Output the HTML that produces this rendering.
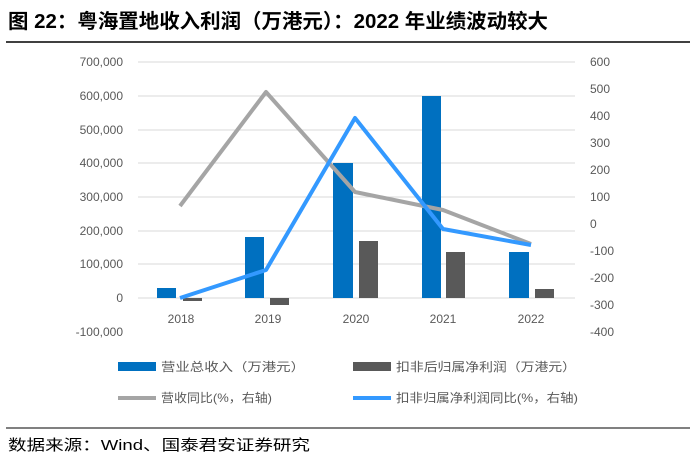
<!DOCTYPE html><html><head><meta charset="utf-8"><style>body{margin:0;background:#fff;}svg{display:block}</style></head><body>
<svg width="693" height="462" xmlns="http://www.w3.org/2000/svg" font-family="Liberation Sans, Noto Sans CJK SC, sans-serif">
<text x="8" y="28" font-size="20" font-weight="bold" fill="#000" textLength="540" lengthAdjust="spacingAndGlyphs">图 22：粤海置地收入利润（万港元）：2022 年业绩波动较大</text>
<line x1="6" y1="42" x2="690" y2="42" stroke="#000" stroke-width="1.5"/>
<g stroke="#d9d9d9" stroke-width="1">
<line x1="138" y1="62" x2="575" y2="62"/><line x1="138" y1="96" x2="575" y2="96"/><line x1="138" y1="130" x2="575" y2="130"/><line x1="138" y1="163" x2="575" y2="163"/><line x1="138" y1="197" x2="575" y2="197"/><line x1="138" y1="231" x2="575" y2="231"/><line x1="138" y1="264" x2="575" y2="264"/><line x1="138" y1="298" x2="575" y2="298"/>
</g>
<g font-size="12" fill="#595959" text-anchor="end">
<text x="123" y="66">700,000</text><text x="123" y="100">600,000</text><text x="123" y="134">500,000</text><text x="123" y="167">400,000</text><text x="123" y="201">300,000</text><text x="123" y="235">200,000</text><text x="123" y="268">100,000</text><text x="123" y="302">0</text><text x="123" y="336">-100,000</text>
</g>
<g font-size="12" fill="#595959" text-anchor="start">
<text x="590" y="66">600</text><text x="590" y="93">500</text><text x="590" y="120">400</text><text x="590" y="147">300</text><text x="590" y="174">200</text><text x="590" y="201">100</text><text x="590" y="228">0</text><text x="590" y="255">-100</text><text x="590" y="282">-200</text><text x="590" y="309">-300</text><text x="590" y="336">-400</text>
</g>
<g fill="#0070c0">
<rect x="157" y="288" width="19" height="10"/><rect x="245" y="237" width="19" height="61"/><rect x="333" y="163" width="20" height="135"/><rect x="422" y="96" width="19" height="202"/><rect x="509" y="252" width="20" height="46"/>
</g>
<g fill="#595959">
<rect x="183" y="298" width="19" height="3"/><rect x="270" y="298" width="19" height="7"/><rect x="359" y="241" width="19" height="57"/><rect x="446" y="252" width="19" height="46"/><rect x="535" y="289" width="19" height="9"/>
</g>
<polyline points="180,206 266,92 355,192 443,210 531,244" fill="none" stroke="#a5a5a5" stroke-width="4" stroke-linejoin="round"/>
<polyline points="180,298 266,270 355,118 443,229 531,245" fill="none" stroke="#3399ff" stroke-width="4" stroke-linejoin="round"/>
<g font-size="12" fill="#595959" text-anchor="middle">
<text x="181" y="323">2018</text><text x="268" y="323">2019</text><text x="356" y="323">2020</text><text x="443" y="323">2021</text><text x="531" y="323">2022</text>
</g>
<g font-size="12" fill="#595959">
<rect x="118" y="362" width="38" height="9" fill="#0070c0"/><text x="161" y="371" textLength="144" lengthAdjust="spacingAndGlyphs">营业总收入（万港元）</text>
<rect x="353" y="362" width="38" height="9" fill="#595959"/><text x="396" y="371" textLength="180" lengthAdjust="spacingAndGlyphs">扣非后归属净利润（万港元）</text>
<line x1="118" y1="398" x2="156" y2="398" stroke="#a5a5a5" stroke-width="4"/><text x="161" y="402" textLength="111" lengthAdjust="spacingAndGlyphs">营收同比(%，右轴)</text>
<line x1="353" y1="398" x2="391" y2="398" stroke="#3399ff" stroke-width="4"/><text x="396" y="402" textLength="182" lengthAdjust="spacingAndGlyphs">扣非归属净利润同比(%，右轴)</text>
</g>
<line x1="6" y1="428" x2="690" y2="428" stroke="#000" stroke-width="1"/>
<text x="8" y="450" font-size="15" fill="#000" textLength="302" lengthAdjust="spacingAndGlyphs">数据来源：Wind、国泰君安证券研究</text>
</svg>
</body></html>
